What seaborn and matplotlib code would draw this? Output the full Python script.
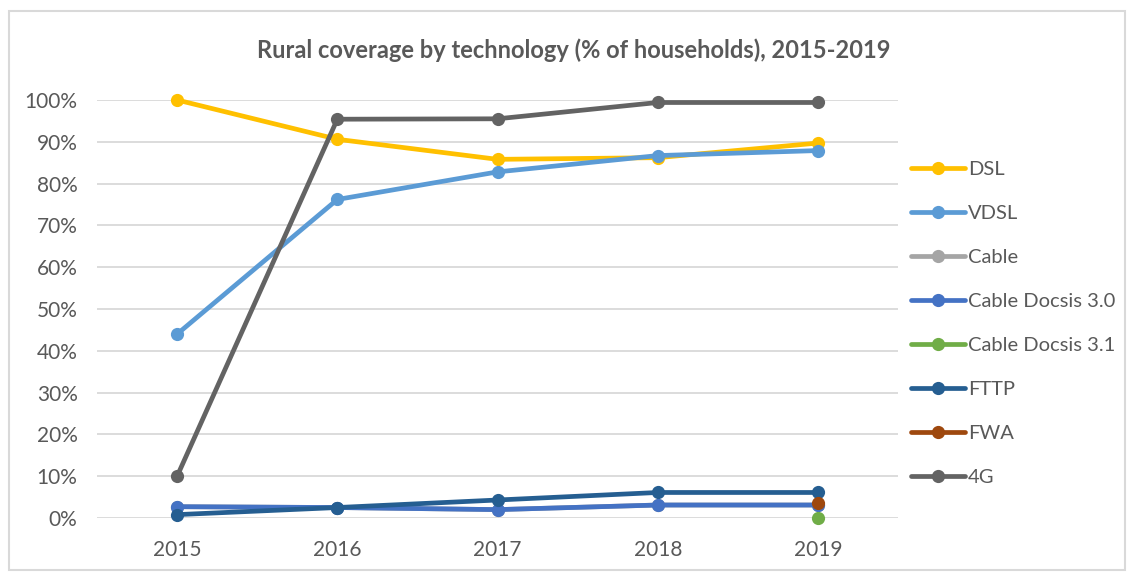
import pandas as pd
import matplotlib
matplotlib.use("Agg")
import matplotlib.pyplot as plt
import seaborn as sns
from matplotlib.lines import Line2D
from matplotlib.patches import Rectangle
from matplotlib.ticker import PercentFormatter

sns.set_theme(style="white")
plt.rcParams['font.family'] = ['Lato', 'DejaVu Sans']

# values (% of households)
years = [2015, 2016, 2017, 2018, 2019]
dsl = [100.0, 90.6, 85.8, 86.2, 89.7]
vdsl = [44.0, 76.2, 82.8, 86.7, 87.9]
cable = [2.7, 2.5, 2.0, 3.1, 3.1]
docsis30 = [2.7, 2.5, 2.0, 3.1, 3.1]
docsis31 = [None, None, None, None, 0.0]
fttp = [0.8, 2.5, 4.3, 6.1, 6.1]
fwa = [None, None, None, None, 3.7]
g4 = [10.0, 95.4, 95.5, 99.4, 99.4]

series = {
    "DSL": dsl,
    "VDSL": vdsl,
    "Cable": cable,
    "Cable Docsis 3.0": docsis30,
    "Cable Docsis 3.1": docsis31,
    "FTTP": fttp,
    "FWA": fwa,
    "4G": g4,
}
colors = ["#FFC000", "#5B9BD5", "#A5A5A5", "#4472C4",
          "#70AD47", "#255E91", "#9E480E", "#636363"]
palette = dict(zip(series.keys(), colors))

# long format for seaborn
rows = []
for name, vals in series.items():
    for yr, v in zip(years, vals):
        rows.append({"year": yr, "tech": name, "coverage": v})
df = pd.DataFrame(rows).dropna()

fig = plt.figure(figsize=(11.31, 5.74), dpi=100)
ax = fig.add_axes([0.0858, 0.0976, 0.7082, 0.7282])

sns.lineplot(data=df, x="year", y="coverage", hue="tech",
             hue_order=list(series.keys()), palette=palette,
             marker="o", markersize=9.5, markeredgewidth=0,
             linewidth=3.4, legend=False, ax=ax)

ax.set_xlim(2014.5, 2019.5)
ax.set_ylim(0, 100)
ax.set_xticks(years)
ax.set_xticklabels([str(y) for y in years])
ax.set_yticks(range(0, 101, 10))
ax.yaxis.set_major_formatter(PercentFormatter(decimals=0))
ax.set_xlabel("")
ax.set_ylabel("")
ax.yaxis.grid(True, color="#D9D9D9", linewidth=1.3)
ax.set_axisbelow(True)
for s in ax.spines.values():
    s.set_visible(False)
ax.tick_params(axis="both", length=0, labelsize=15, colors="#595959")
ax.tick_params(axis="y", pad=14)
ax.tick_params(axis="x", pad=16)
for ln in ax.get_lines():
    ln.set_clip_on(False)

fig.text(0.507, 0.913, "Rural coverage by technology (% of households), 2015-2019",
         ha="center", va="center", fontsize=17, fontweight="bold", color="#595959")

handles = [Line2D([0], [0], color=c, linewidth=3.4, marker="o", markersize=9.5,
                  markeredgewidth=0) for c in colors]
fig.legend(handles, list(series.keys()), loc="upper left",
           bbox_to_anchor=(0.798, 0.733), frameon=False, fontsize=14.5,
           labelcolor="#595959", handlelength=2.7, handletextpad=0.15,
           labelspacing=1.33, borderaxespad=0)

fig.patches.append(Rectangle((0.008, 0.007), 0.987, 0.973, transform=fig.transFigure,
                             fill=False, edgecolor="#D9D9D9", linewidth=1.5))

fig.savefig("out.png", dpi=100)
